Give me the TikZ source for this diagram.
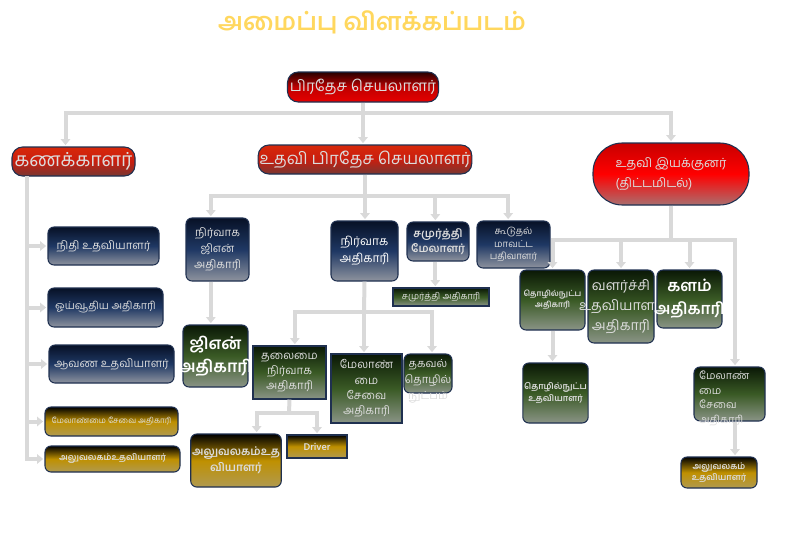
\documentclass[tikz,border=0pt]{standalone}
\usepackage{fontspec}
\setmainfont{Hind Madurai}[Script=Tamil]
\usepackage{tikz}
\usetikzlibrary{arrows.meta}
\usetikzlibrary{positioning}
\newlength{\px}
\setlength{\px}{0.75pt}
\definecolor{linkgray}{HTML}{D9D9D9}
\definecolor{boxline}{HTML}{1F3050}
\definecolor{boxtext}{HTML}{DCDCDC}
\definecolor{titlegold}{HTML}{FFD75E}

\begin{document}
\begin{tikzpicture}[
x=0.75pt, y=-0.75pt,
Links/.style={draw=linkgray, line width=3pt},
LinkArrows/.style={Links, -{Triangle[length=4.5pt, width=7pt]}, shorten >=1pt},
Box/.style={draw=boxline, line width=0.8pt, rounded corners=4.5pt, inner sep=1pt, align=center, text=boxtext},
TopBox/.style={Box, rounded corners=8pt, top color=black!85!red, bottom color=red!90!black, middle color=red!75!black},
RedBox/.style={Box, rounded corners=8pt, top color={rgb,255:red,215;green,40;blue,10}, bottom color={rgb,255:red,120;green,55;blue,50}, middle color={rgb,255:red,200;green,30;blue,15}},
BrightRed/.style={Box, rounded corners=22pt, top color={rgb,255:red,200;green,0;blue,0}, bottom color={rgb,255:red,170;green,110;blue,110}, middle color=red},
BlueBox/.style={Box, top color={rgb,255:red,7;green,17;blue,38}, bottom color={rgb,255:red,142;green,147;blue,158}, middle color={rgb,255:red,31;green,56;blue,100}},
GreenBox/.style={Box, top color={rgb,255:red,10;green,24;blue,6}, bottom color={rgb,255:red,138;green,148;blue,134}, middle color={rgb,255:red,58;green,90;blue,37}},
GoldBox/.style={Box, top color=black, bottom color={rgb,255:red,176;green,154;blue,80}, middle color={rgb,255:red,191;green,144;blue,0}},
BoxText/.style={text=boxtext, align=center, inner sep=0pt}
]
\useasboundingbox (0,0) rectangle (787,535);

\node[text=titlegold, font=\bfseries\fontsize{18.5}{22}\selectfont] (title) at (372,22) {அமைப்பு விளக்கப்படம்};

% first row
\node[TopBox, minimum width=151\px, minimum height=30\px, font=\fontsize{11.5}{14}\selectfont] (sec) at (363,87) {பிரதேச செயலாளர்};
\node[RedBox, minimum width=123\px, minimum height=29\px, font=\fontsize{14.5}{17}\selectfont] (acct) at (73.5,161.5) {கணக்காளர்};
\node[RedBox, minimum width=212\px, minimum height=29\px, font=\fontsize{12.5}{15}\selectfont] (asec) at (365,159.5) {உதவி பிரதேச செயலாளர்};
\node[BrightRed, minimum width=156\px, minimum height=62\px, align=left, font=\fontsize{9.5}{15}\selectfont] (addir) at (671,174) {உதவி இயக்குனர்\\(திட்டமிடல்)};

% left column
\node[BlueBox, minimum width=111\px, minimum height=38\px, font=\fontsize{8.5}{11}\selectfont] (fin) at (103.5,246) {நிதி உதவியாளர்};
\node[BlueBox, minimum width=115\px, minimum height=39\px, font=\fontsize{8}{11}\selectfont] (pen) at (105.5,307.5) {ஓய்வூதிய அதிகாரி};
\node[BlueBox, minimum width=125\px, minimum height=38\px, font=\fontsize{8.5}{11}\selectfont] (rec) at (111.5,364) {ஆவண உதவியாளர்};
\node[GoldBox, minimum width=133\px, minimum height=29\px, font=\fontsize{6}{8}\selectfont] (msoL) at (111.5,421.5) {மேலாண்மை சேவை அதிகாரி};
\node[GoldBox, minimum width=135\px, minimum height=26\px, font=\bfseries\fontsize{6.5}{8}\selectfont] (offL) at (112.5,459) {அலுவலகம்உதவியாளர்};

% middle
\node[BlueBox, minimum width=63\px, minimum height=63\px, font=\fontsize{8.5}{12}\selectfont] (gnadm) at (217.5,249.5) {நிர்வாக\\ஜிஎன்\\அதிகாரி};
\node[BlueBox, minimum width=67\px, minimum height=60\px, font=\fontsize{9}{12.5}\selectfont, text=white] (adm) at (364.5,251) {நிர்வாக\\அதிகாரி};
\node[BlueBox, minimum width=62\px, minimum height=39\px, font=\bfseries\fontsize{8.3}{11}\selectfont] (sam) at (438,241.5) {சமுர்த்தி\\மேலாளர்};
\node[BlueBox, minimum width=73\px, minimum height=47\px, font=\fontsize{7.2}{9.5}\selectfont] (dreg) at (513.5,244.5) {கூடுதல்\\மாவட்ட\\பதிவாளர்};
\node[GreenBox, rounded corners=0pt, minimum width=96\px, minimum height=18\px, font=\fontsize{6.8}{8}\selectfont] (samadm) at (441,297) {சமுர்த்தி அதிகாரி};

\node[GreenBox, minimum width=65\px, minimum height=62\px] (gn) at (215.5,356) {};
\node[BoxText, text=white, font=\bfseries\fontsize{12.5}{17}\selectfont] (gntext) at (gn.center) {ஜிஎன்\\அதிகாரி};

\node[GreenBox, rounded corners=0pt, minimum width=73\px, minimum height=53\px, font=\fontsize{8.5}{11}\selectfont] (head) at (289.5,372.5) {தலைமை\\நிர்வாக\\அதிகாரி};
\node[GreenBox, rounded corners=0pt, minimum width=71\px, minimum height=69\px, font=\fontsize{8.5}{11.5}\selectfont] (msoM) at (366.5,388.5) {மேலாண்\\மை\\சேவை\\அதிகாரி};
\node[GreenBox, minimum width=48\px, minimum height=39\px] (itc) at (428,373.5) {};
\node[BoxText, anchor=north, font=\fontsize{8.3}{12}\selectfont] (itctext) at ([yshift=-4.5pt]itc.north) {தகவல்\\தொழில்\\நுட்பம்};

\node[GoldBox, minimum width=86\px, minimum height=53\px, font=\bfseries\fontsize{8.5}{12}\selectfont] (offM) at (236,460.5) {அலுவலகம்உத\\வியாளர்};
\node[GoldBox, rounded corners=0pt, minimum width=60\px, minimum height=23\px, font=\bfseries\fontsize{7.5}{9}\selectfont] (drv) at (317,446.5) {Driver};

% right
\node[GreenBox, minimum width=65\px, minimum height=60\px, font=\bfseries\fontsize{6}{8}\selectfont] (tna) at (552.5,300) {தொழில்நுட்ப\\அதிகாரி};
\node[GreenBox, minimum width=66\px, minimum height=73\px] (dev) at (621,306.5) {};
\node[BoxText, font=\fontsize{10.5}{15}\selectfont] (devtext) at (dev.center) {வளர்ச்சி\\உதவியாளர்\\அதிகாரி};
\node[GreenBox, minimum width=65\px, minimum height=58\px] (fld) at (689.5,299) {};
\node[BoxText, text=white, font=\bfseries\fontsize{12}{17}\selectfont] (fldtext) at (fld.center) {களம்\\அதிகாரி};

\node[GreenBox, minimum width=65\px, minimum height=60\px, font=\bfseries\fontsize{6.5}{9}\selectfont] (tnu) at (555.5,393) {தொழில்நுட்ப\\உதவியாளர்};
\node[GreenBox, minimum width=71\px, minimum height=54\px] (msoR) at (729.5,394) {};
\node[BoxText, anchor=north west, align=left, font=\fontsize{8}{11}\selectfont] (msoRtext) at ([xshift=4pt,yshift=-3pt]msoR.north west) {மேலாண்\\மை\\சேவை\\அதிகாரி};
\node[GoldBox, minimum width=76\px, minimum height=31\px, font=\bfseries\fontsize{6.5}{8.5}\selectfont] (offR) at (719,472.5) {அலுவலகம்\\உதவியாளர்};

% connectors
\coordinate (topbus) at (363,113);
\draw[Links] (sec.south) -- (topbus);
\draw[LinkArrows] (topbus) -| ([xshift=-6pt]acct.north);
\draw[LinkArrows] (topbus) -- (topbus |- asec.north);
\draw[LinkArrows] (topbus) -| (addir.north);

\coordinate (lcol) at (27,176);
\draw[LinkArrows] (lcol) |- (fin.west);
\draw[LinkArrows] (lcol) |- (pen.west);
\draw[LinkArrows] (lcol) |- (rec.west);
\draw[LinkArrows] (lcol) |- (msoL.west);
\draw[LinkArrows] (lcol) |- (offL.west);

\coordinate (midbus) at (365,196);
\draw[Links] (asec.south) -- (midbus);
\draw[LinkArrows] (midbus) -| ([xshift=-5pt]gnadm.north);
\draw[LinkArrows] (midbus) -- (midbus |- adm.north);
\draw[LinkArrows] (midbus) -| ([xshift=-2pt]sam.north);
\draw[LinkArrows] (midbus) -| ([xshift=-4pt]dreg.north);
\draw[LinkArrows] ([xshift=-2pt]sam.south) -- ([xshift=-2pt]sam.south |- samadm.north);
\draw[LinkArrows] ([xshift=-5pt]gnadm.south) -- ([xshift=-5pt]gnadm.south |- gn.north);

\coordinate (admbus) at (364,312);
\draw[Links] (adm.south) -- (admbus);
\draw[LinkArrows] (admbus) -| ([xshift=4pt]head.north);
\draw[LinkArrows] (admbus) -- (admbus |- msoM.north);
\draw[LinkArrows] (admbus) -| ([xshift=3pt]itc.north);

\coordinate (headbus) at (289,413);
\draw[Links] (head.south) -- (headbus);
\draw[LinkArrows] (headbus) -| ([xshift=15.5pt]offM.north);
\draw[LinkArrows] (headbus) -| (drv.north);

\coordinate (rbus) at (671,240);
\coordinate (rcol) at (735,240);
\draw[Links] (addir.south) -- (rbus);
\draw[LinkArrows] (rbus) -| (tna.north);
\draw[LinkArrows] (rbus) -| (dev.north);
\draw[LinkArrows] (rbus) -| (fld.north);
\draw[LinkArrows] (rbus) -| (msoR.north -| rcol);
\draw[LinkArrows] (tna.south) -- (tna.south |- tnu.north);
\draw[LinkArrows] (msoR.south -| rcol) -- (offR.north -| rcol);

\end{tikzpicture}
\end{document}
